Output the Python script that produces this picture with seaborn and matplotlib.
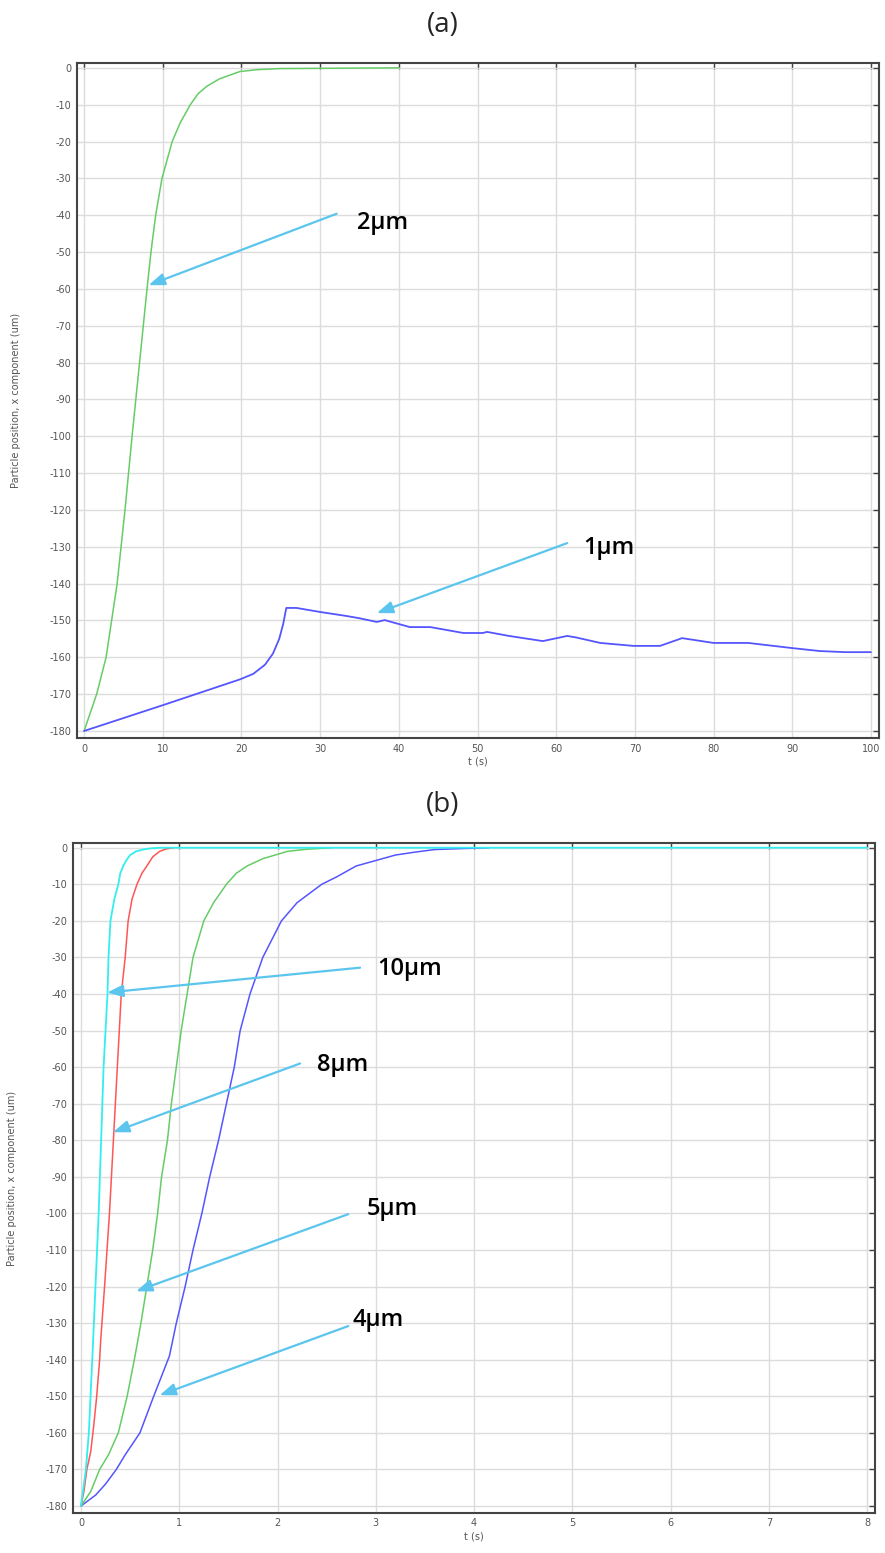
import numpy as np
import pandas as pd
import matplotlib
matplotlib.use("Agg")
import matplotlib.pyplot as plt
import seaborn as sns

# ---- panel (a): particle position vs time, 2um and 1um ----
t_2um = [0, 0.8, 1.6, 2.2, 2.8, 3.5, 4.2, 5.2, 6.1, 7.05, 8.0, 8.5, 9.1, 9.9, 11.2, 12.2, 13.5,
         14.5, 15.6, 17.2, 19.8, 22, 25, 40]
x_2um = [-180, -175, -170, -165, -160, -150, -140, -120, -100, -80, -60, -50, -40, -30, -20, -15,
         -10, -7, -5, -3, -1, -0.5, -0.2, 0]

t_1um = [0, 10, 19.8, 21.5, 23, 24, 24.8, 25.3, 25.7, 27, 30, 33.4, 35, 37.2, 38.2, 41.4, 44, 48.2,
         50.7, 51.2, 54, 58.3, 61.4, 62.5, 65.6, 69.8, 73.2, 76, 80, 84.4, 90, 93.5, 96.7, 100]
x_1um = [-180, -173, -166, -164.5, -162, -159, -155, -151, -146.6, -146.6, -147.7, -148.8, -149.4,
         -150.4, -149.9, -151.8, -151.8, -153.4, -153.4, -153.1, -154.2, -155.6, -154.2, -154.6,
         -156.1, -156.9, -156.9, -154.8, -156.1, -156.1, -157.5, -158.3, -158.6, -158.6]

# ---- panel (b): 10, 8, 5, 4 um ----
t_10um = [0, 0.05, 0.08, 0.12, 0.18, 0.23, 0.25, 0.27, 0.28, 0.30, 0.34, 0.38, 0.40, 0.43, 0.46,
          0.5, 0.56, 0.63, 0.7, 0.8, 8.0]
x_10um = [-180, -170, -160, -137, -100, -60, -50, -40, -30, -20, -14, -10, -7, -5, -3.5,
          -2, -1, -0.5, -0.2, 0, 0]

t_8um = [0, 0.03, 0.06, 0.1, 0.13, 0.16, 0.19, 0.2, 0.24, 0.29, 0.33, 0.37, 0.39, 0.41, 0.45, 0.48,
         0.52, 0.57, 0.62, 0.67, 0.73, 0.8, 0.87, 0.94]
x_8um = [-180, -176, -170, -165, -158, -150, -140, -135, -120, -100, -80, -60, -50, -40, -30, -20,
         -14, -10, -7, -5, -2.5, -1, -0.3, 0]

t_5um = [0, 0.1, 0.19, 0.28, 0.38, 0.47, 0.55, 0.61, 0.67, 0.73, 0.78, 0.82, 0.88, 0.92, 0.97, 1.02,
         1.08, 1.14, 1.25, 1.35, 1.48, 1.58, 1.69, 1.85, 2.1, 2.3, 2.55]
x_5um = [-180, -176, -170, -166, -160, -150, -139, -130, -120, -110, -100, -90, -80, -70, -60, -50,
         -40, -30, -20, -15, -10, -7, -5, -3, -1, -0.4, 0]

t_4um = [0, 0.15, 0.25, 0.36, 0.45, 0.6, 0.74, 0.9, 0.97, 1.06, 1.14, 1.23, 1.31, 1.40, 1.48, 1.56,
         1.62, 1.72, 1.85, 2.04, 2.2, 2.45, 2.6, 2.8, 3.0, 3.2, 3.4, 3.6, 3.9, 4.15]
x_4um = [-180, -177, -174, -170, -166, -160, -150, -139, -130, -120, -110, -100, -90, -80, -70, -60,
         -50, -40, -30, -20, -15, -10, -8, -5, -3.5, -2, -1.2, -0.5, -0.2, 0]

GREEN = "#66cc66"
BLUE = "#5555ff"
RED = "#ff5555"
CYAN = "#33eeee"
ARROW = "#5bc5ee"

sns.set_style("whitegrid", {"grid.color": "#dcdcdc", "axes.edgecolor": "#444444"})
plt.rcParams["font.family"] = ["DejaVu Sans"]

fig = plt.figure(figsize=(8.85, 15.53), dpi=100)
ax_a = fig.add_axes([0.087, 0.5248, 0.906, 0.4346])
ax_b = fig.add_axes([0.0825, 0.0258, 0.9062, 0.4314])


def style_axes(ax, xlim, xticks):
    ax.set_xlim(*xlim)
    ax.set_ylim(-181.9, 1.3)
    ax.set_xticks(xticks)
    ax.set_yticks(np.arange(-180, 1, 10))
    ax.tick_params(direction="in", top=True, right=True, length=4, width=1,
                   labelsize=7, labelcolor="#555555", color="#444444", pad=4)
    ax.set_yticklabels([str(v) for v in np.arange(-180, 1, 10)])
    ax.grid(True, color="#dcdcdc", lw=1)
    for s in ax.spines.values():
        s.set_linewidth(1.5)
        s.set_color("#444444")
    ax.set_xlabel("t (s)", fontsize=7, color="#555555", labelpad=2)
    ax.set_ylabel("Particle position, x component (um)", fontsize=7, color="#555555")
    ax.yaxis.set_label_coords(-0.07, 0.5)


def arrow(ax, label, tip, start, lab):
    ax.annotate("", xy=tip, xytext=start,
                arrowprops=dict(arrowstyle="-|>,head_length=0.8,head_width=0.3",
                                color=ARROW, lw=1.6, mutation_scale=12, shrinkA=0, shrinkB=0))
    ax.text(lab[0], lab[1], label, fontsize=17, family=["Open Sans", "DejaVu Sans"],
            weight="semibold", ha="left", va="center", color="black")


# panel (a)
sns.lineplot(x=t_2um, y=x_2um, ax=ax_a, color=GREEN, lw=1.1, estimator=None)
sns.lineplot(x=t_1um, y=x_1um, ax=ax_a, color=BLUE, lw=1.3, estimator=None)
style_axes(ax_a, (-0.9, 101.0), np.arange(0, 101, 10))
arrow(ax_a, "2µm", (8.2, -59), (32.1, -39.6), (34.7, -42.1))
arrow(ax_a, "1µm", (37.2, -148.0), (61.4, -129.0), (63.4, -130.3))

# panel (b)
sns.lineplot(x=t_4um, y=x_4um, ax=ax_b, color=BLUE, lw=1.1, estimator=None)
sns.lineplot(x=t_5um, y=x_5um, ax=ax_b, color=GREEN, lw=1.1, estimator=None)
sns.lineplot(x=t_8um, y=x_8um, ax=ax_b, color=RED, lw=1.1, estimator=None)
sns.lineplot(x=t_10um, y=x_10um, ax=ax_b, color=CYAN, lw=1.3, estimator=None)
style_axes(ax_b, (-0.081, 8.08), np.arange(0, 9, 1))
arrow(ax_b, "10µm", (0.265, -39.6), (2.84, -32.8), (3.01, -33.1))
arrow(ax_b, "8µm", (0.326, -77.8), (2.23, -59.0), (2.40, -59.5))
arrow(ax_b, "5µm", (0.56, -121.3), (2.72, -100.2), (2.91, -98.9))
arrow(ax_b, "4µm", (0.80, -149.7), (2.72, -130.8), (2.76, -129.2))

fig.text(0.5, 1 - 25 / 1553, "(a)", fontsize=20, ha="center", va="center",
         family=["Open Sans", "DejaVu Sans"])
fig.text(0.5, 1 - 805 / 1553, "(b)", fontsize=20, ha="center", va="center",
         family=["Open Sans", "DejaVu Sans"])

fig.savefig("out.png", dpi=100)
